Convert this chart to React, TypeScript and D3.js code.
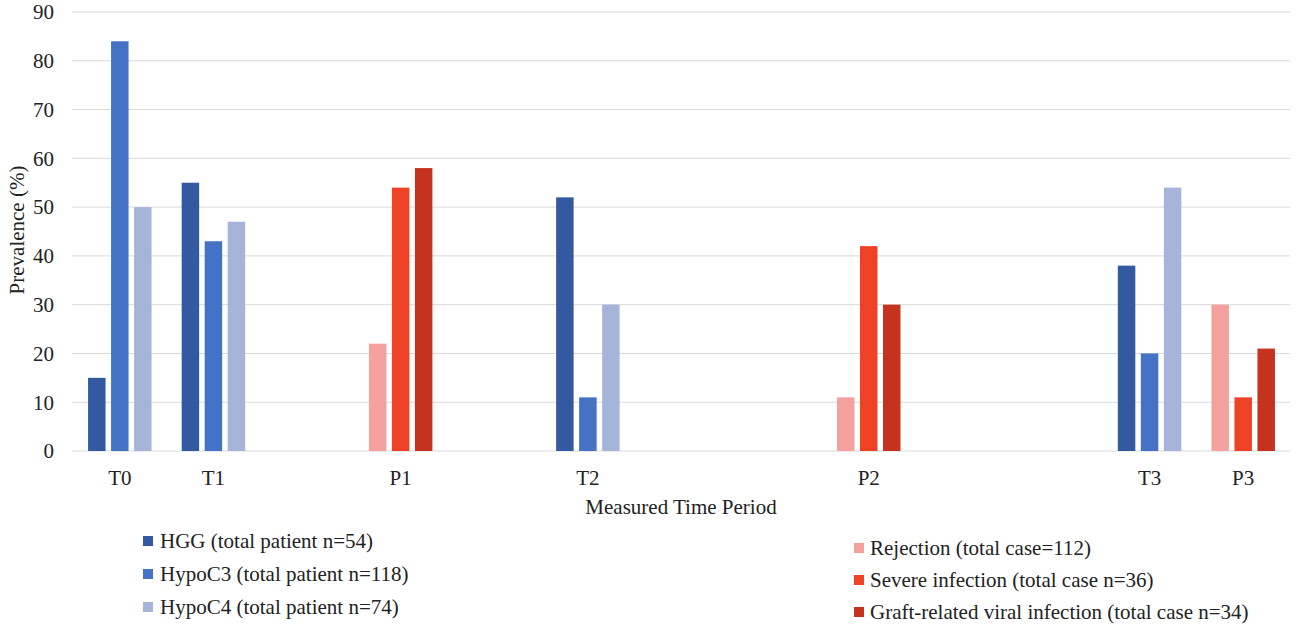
import React from "react";
import * as d3 from "d3";

const categories = ["T0", "T1", "", "P1", " ", "T2", "  ", "   ", "P2", "    ", "     ", "T3", "P3"];
const groupKind = ["T", "T", "", "P", "", "T", "", "", "P", "", "", "T", "P"];
const tValues: Record<string, number[]> = {
  T0: [15, 84, 50],
  T1: [55, 43, 47],
  T2: [52, 11, 30],
  T3: [38, 20, 54],
};
const pValues: Record<string, number[]> = {
  P1: [22, 54, 58],
  P2: [11, 42, 30],
  P3: [30, 11, 21],
};
const tSeries = ["HGG (total patient n=54)", "HypoC3 (total patient n=118)", "HypoC4 (total patient n=74)"];
const pSeries = ["Rejection (total case=112)", "Severe infection (total case n=36)", "Graft-related viral infection (total case n=34)"];
const tColors = ["#335AA1", "#4472C4", "#A6B4DA"];
const pColors = ["#F4A19E", "#EE4126", "#C5321D"];
const yTicks = [0, 10, 20, 30, 40, 50, 60, 70, 80, 90];

const W = 1299;
const H = 631;
const FS = 21;
const css = `.lbl { font-family: "Liberation Serif", "Times New Roman", Tinos, serif !important; }`;

function T(props: any) {
  const { children, ...rest } = props;
  return (
    <text className="lbl" fontFamily="Liberation Serif" fontSize={FS} fill="#222" {...rest}>
      {children}
    </text>
  );
}

export default function App() {
  const x = d3.scaleBand<string>().domain(categories).range([73, 1290]).padding(0);
  const y = d3.scaleLinear().domain([0, 90]).range([451, 12]);
  const groupW = 63.5;
  const off = (x.bandwidth() - groupW) / 2;
  const inner = d3.scaleBand<number>().domain([0, 1, 2]).range([off, off + groupW]).paddingInner(0.24).paddingOuter(0);

  const bars: React.ReactNode[] = [];
  categories.forEach((c, i) => {
    const kind = groupKind[i];
    const vals = kind === "T" ? tValues[c] : kind === "P" ? pValues[c] : null;
    if (!vals) return;
    const cols = kind === "T" ? tColors : pColors;
    vals.forEach((v, j) => {
      bars.push(
        <rect
          key={`${c}-${j}`}
          x={(x(c) as number) + (inner(j) as number)}
          y={y(v)}
          width={inner.bandwidth()}
          height={y(0) - y(v)}
          fill={cols[j]}
        />
      );
    });
  });

  return (
    <svg width={W} height={H} style={{ position: "absolute", left: 0, top: 0 }}>
      <style>{css}</style>
      <rect x={0} y={0} width={W} height={H} fill="#fff" />
      {yTicks.map((t) => (
        <g key={t}>
          <line x1={72} x2={1290} y1={y(t)} y2={y(t)} stroke="#D9D9D9" strokeWidth={1} />
          <T x={54} y={y(t)} dy="0.35em" textAnchor="end">
            {t}
          </T>
        </g>
      ))}
      {bars}
      {categories.map((c, i) =>
        groupKind[i] ? (
          <T key={c} x={(x(c) as number) + x.bandwidth() / 2} y={485} textAnchor="middle">
            {c}
          </T>
        ) : null
      )}
      <T x={681} y={514} textAnchor="middle">
        Measured Time Period
      </T>
      <T transform={`translate(24,230) rotate(-90)`} textAnchor="middle">
        Prevalence (%)
      </T>
      {tSeries.map((s, i) => (
        <g key={s} transform={`translate(143,${541 + i * 33})`}>
          <rect x={0} y={-5} width={10} height={10} fill={tColors[i]} />
          <T x={17} y={0} dy="0.35em">
            {s}
          </T>
        </g>
      ))}
      {pSeries.map((s, i) => (
        <g key={s} transform={`translate(854,${548 + i * 32})`}>
          <rect x={0} y={-5} width={10} height={10} fill={pColors[i]} />
          <T x={16} y={0} dy="0.35em">
            {s}
          </T>
        </g>
      ))}
    </svg>
  );
}
